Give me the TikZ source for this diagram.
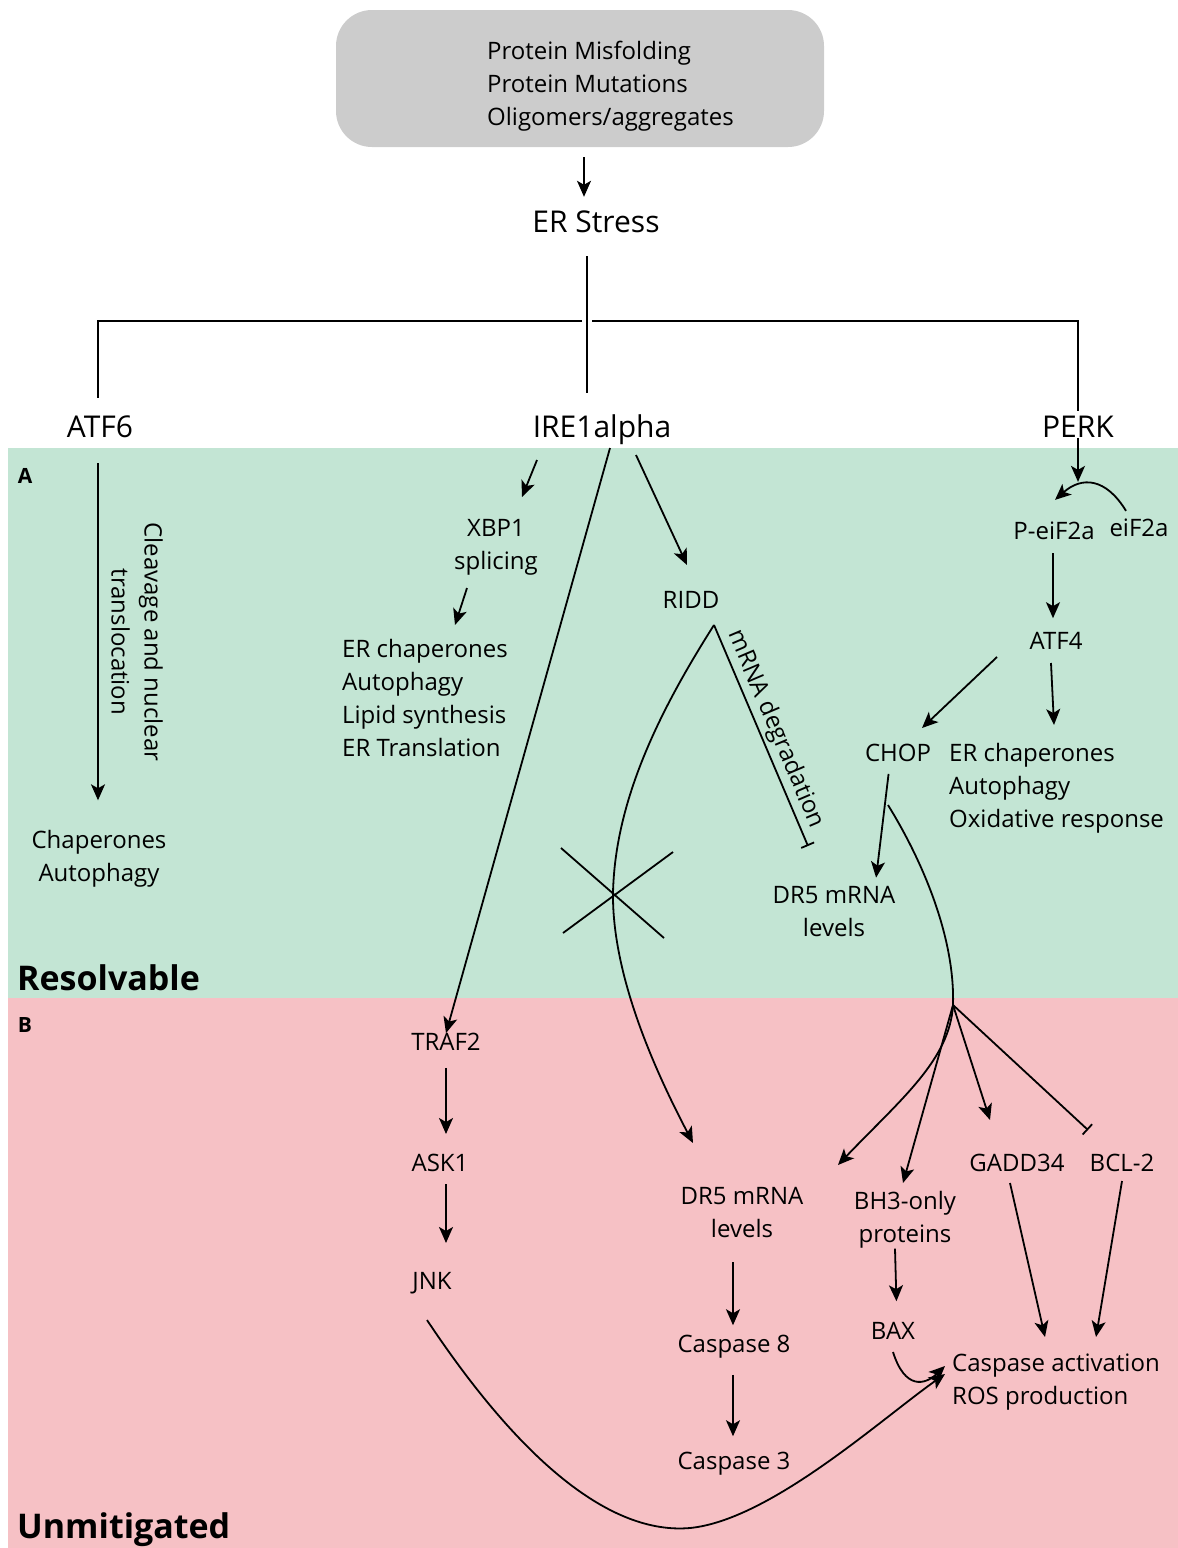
\documentclass[tikz,border=0pt]{standalone}
\usepackage{fontspec}
\setmainfont{Open Sans}
\usetikzlibrary{arrows.meta}
\definecolor{resgreen}{HTML}{C3E5D4}
\definecolor{unpink}{HTML}{F6C1C5}
\definecolor{boxgray}{HTML}{CCCCCC}
\tikzset{
  txt/.style={font=\fontsize{24}{33}\selectfont, inner sep=0pt, align=center},
  txtl/.style={txt, align=left, anchor=west},
  big/.style={font=\fontsize{30}{36}\selectfont, inner sep=0pt},
  panel/.style={font=\bfseries\fontsize{34}{40}\selectfont, inner sep=0pt, anchor=west},
  tag/.style={font=\bfseries\fontsize{21}{24}\selectfont, inner sep=0pt},
  ln/.style={line width=1.8pt},
  arr/.style={ln, -{Stealth[length=16pt, width=14pt, inset=4pt]}},
  tee/.style={ln, -{Bar[width=14pt, line width=1.8pt]}},
}
\begin{document}
\begin{tikzpicture}[x=1pt, y=-1pt]
  \useasboundingbox (0,0) rectangle (1178,1548);
  % panels
  \fill[resgreen] (8,448) rectangle (1178,998);
  \fill[unpink] (8,998) rectangle (1178,1548);
  \node[fill=boxgray, rounded corners=36pt, minimum width=488pt, minimum height=137pt] (box) at (580,78.5) {};
  \node[tag] (tagA) at (25,476) {A};
  \node[tag] (tagB) at (25,1025) {B};
  \node[panel] (res) at (17,978) {Resolvable};
  \node[panel] (unm) at (17,1530) {Unmitigated};

  % stress and the three sensors
  \node[txtl] (cause) at (487,86) {Protein Misfolding\\Protein Mutations\\Oligomers/aggregates};
  \node[big] (ers) at (596,222) {ER Stress};
  \node[big] (atf) at (100,427) {ATF6};
  \node[big] (ire) at (602,430) {IRE1alpha};
  \node[big] (perk) at (1078,427) {PERK};
  \coordinate (hub) at (587,321);
  \draw[arr, shorten <=10pt, shorten >=14pt] ([xshift=4pt]box.south) -- ([xshift=-12pt]ers.north);
  \draw[ln, shorten <=23pt, shorten >=22pt] (ers.south -| hub) -- (ire.north -| hub);
  \draw[ln] ([xshift=-5pt]hub) -| ([xshift=-2pt, yshift=18pt]atf.north);
  \draw[ln] ([xshift=5pt]hub) -| ([yshift=5pt]perk.north);

  % ATF6
  \node[txt] (chap) at (99,859) {Chaperones\\Autophagy};
  \node[txt, rotate=-90] (cleav) at (137,642) {Cleavage and nuclear\\translocation};
  \draw[arr, shorten <=25pt, shorten >=30pt] ([xshift=-2pt]atf.south) -- ([xshift=-1pt]chap.north);

  % IRE1alpha
  \node[txt] (xbp) at (496,547) {XBP1\\splicing};
  \node[txtl] (ireout) at (342,698) {ER chaperones\\Autophagy\\Lipid synthesis\\ER Translation};
  \node[txt] (ridd) at (691,600) {RIDD};
  \node[txt] (drup) at (834,912) {DR5 mRNA\\levels};
  \coordinate (rd) at (714,625);
  \coordinate (drt) at (808,846);
  \draw[arr] (537,460) -- (522,497);
  \draw[arr] (467,588) -- (455,625);
  \draw[arr] (636,455) -- (687,565);
  \draw[tee] (rd) -- node[txt, sloped, above=3pt] {mRNA degradation} (drt);
  \draw[ln] (561,848) -- (664,938);
  \draw[ln] (563,933) -- (673,852);

  % PERK
  \node[txt] (peif) at (1054,531) {P-eiF2a};
  \node[txt] (eif) at (1139,528) {eiF2a};
  \node[txt] (atff) at (1056,641) {ATF4};
  \node[txt] (chop) at (898,753) {CHOP};
  \node[txtl] (perkout) at (949,788) {ER chaperones\\Autophagy\\Oxidative response};
  \coordinate (cj) at (953,1005);
  \draw[arr, shorten >=40pt] (perk.south) -- (perk.south |- peif.north);
  \draw[arr] ([xshift=-13pt, yshift=8pt]eif.north) .. controls (1106,478) and (1082,476) .. ([xshift=1pt, yshift=22pt]peif.north);
  \draw[arr, shorten <=13pt, shorten >=14pt] ([xshift=-1pt]peif.south) -- ([xshift=-3pt]atff.north);
  \draw[arr] (997,657) -- (922,728);
  \draw[arr] (1051,663) -- (1054,725);
  \draw[arr, shorten <=12pt, shorten >=9pt] ([xshift=-8pt]chop.south) -- ([xshift=41pt]drup.north);
  \draw[ln] (888,805) .. controls (925,865) and (955,940) .. (cj);

  % unmitigated side
  \node[txt] (traf) at (446,1042) {TRAF2};
  \node[txt] (ask) at (440,1163) {ASK1};
  \node[txt] (jnk) at (432,1283) {JNK};
  \node[txt] (drlo) at (742,1212) {DR5 mRNA\\levels};
  \node[txt] (cas8) at (734,1347) {Caspase 8};
  \node[txt] (cas3) at (734,1464) {Caspase 3};
  \node[txt] (bh3) at (905,1220) {BH3-only\\proteins};
  \node[txt] (bax) at (893,1331) {BAX};
  \node[txt] (gadd) at (1017,1163) {GADD34};
  \node[txt] (bcl) at (1122,1163) {BCL-2};
  \node[txtl] (casact) at (952,1382) {Caspase activation\\ROS production};

  \draw[arr] (610,448) -- (traf.north);
  \draw[arr, shorten <=17pt, shorten >=20pt] (traf.south) -- (traf.south |- ask.north);
  \draw[arr, shorten <=12pt, shorten >=29pt] (traf.south |- ask.south) -- (traf.south |- jnk.north);
  \draw[arr] (rd) .. controls (660,710) and (615,800) .. (613,893) .. controls (612,980) and (660,1080) .. (693,1143);
  \draw[arr, shorten <=25pt, shorten >=10pt] ([xshift=-9pt]drlo.south) -- ([xshift=-1pt]cas8.north);
  \draw[arr, shorten <=16pt, shorten >=16pt] ([xshift=-1pt]cas8.south) -- ([xshift=-1pt]cas3.north);
  \draw[arr] (cj) .. controls (950,1060) and (900,1100) .. (838,1165);
  \draw[arr] (cj) -- (903,1183);
  \draw[arr] (cj) -- (990,1120);
  \draw[tee] (cj) -- (1088,1130);
  \draw[arr, shorten >=21pt] ([xshift=-10pt]bh3.south) -- ([xshift=4pt]bax.north);
  \draw[arr] (1010,1183) -- (1045,1337);
  \draw[arr] (1122,1181) -- (1096,1337);
  \draw[arr] (893,1352) .. controls (905,1390) and (925,1385) .. ([xshift=-7pt, yshift=16pt]casact.west);
  \draw[arr] (427,1320) .. controls (520,1460) and (610,1535) .. (690,1528) .. controls (770,1520) and (880,1420) .. ([xshift=-7pt, yshift=8pt]casact.west);
\end{tikzpicture}
\end{document}
